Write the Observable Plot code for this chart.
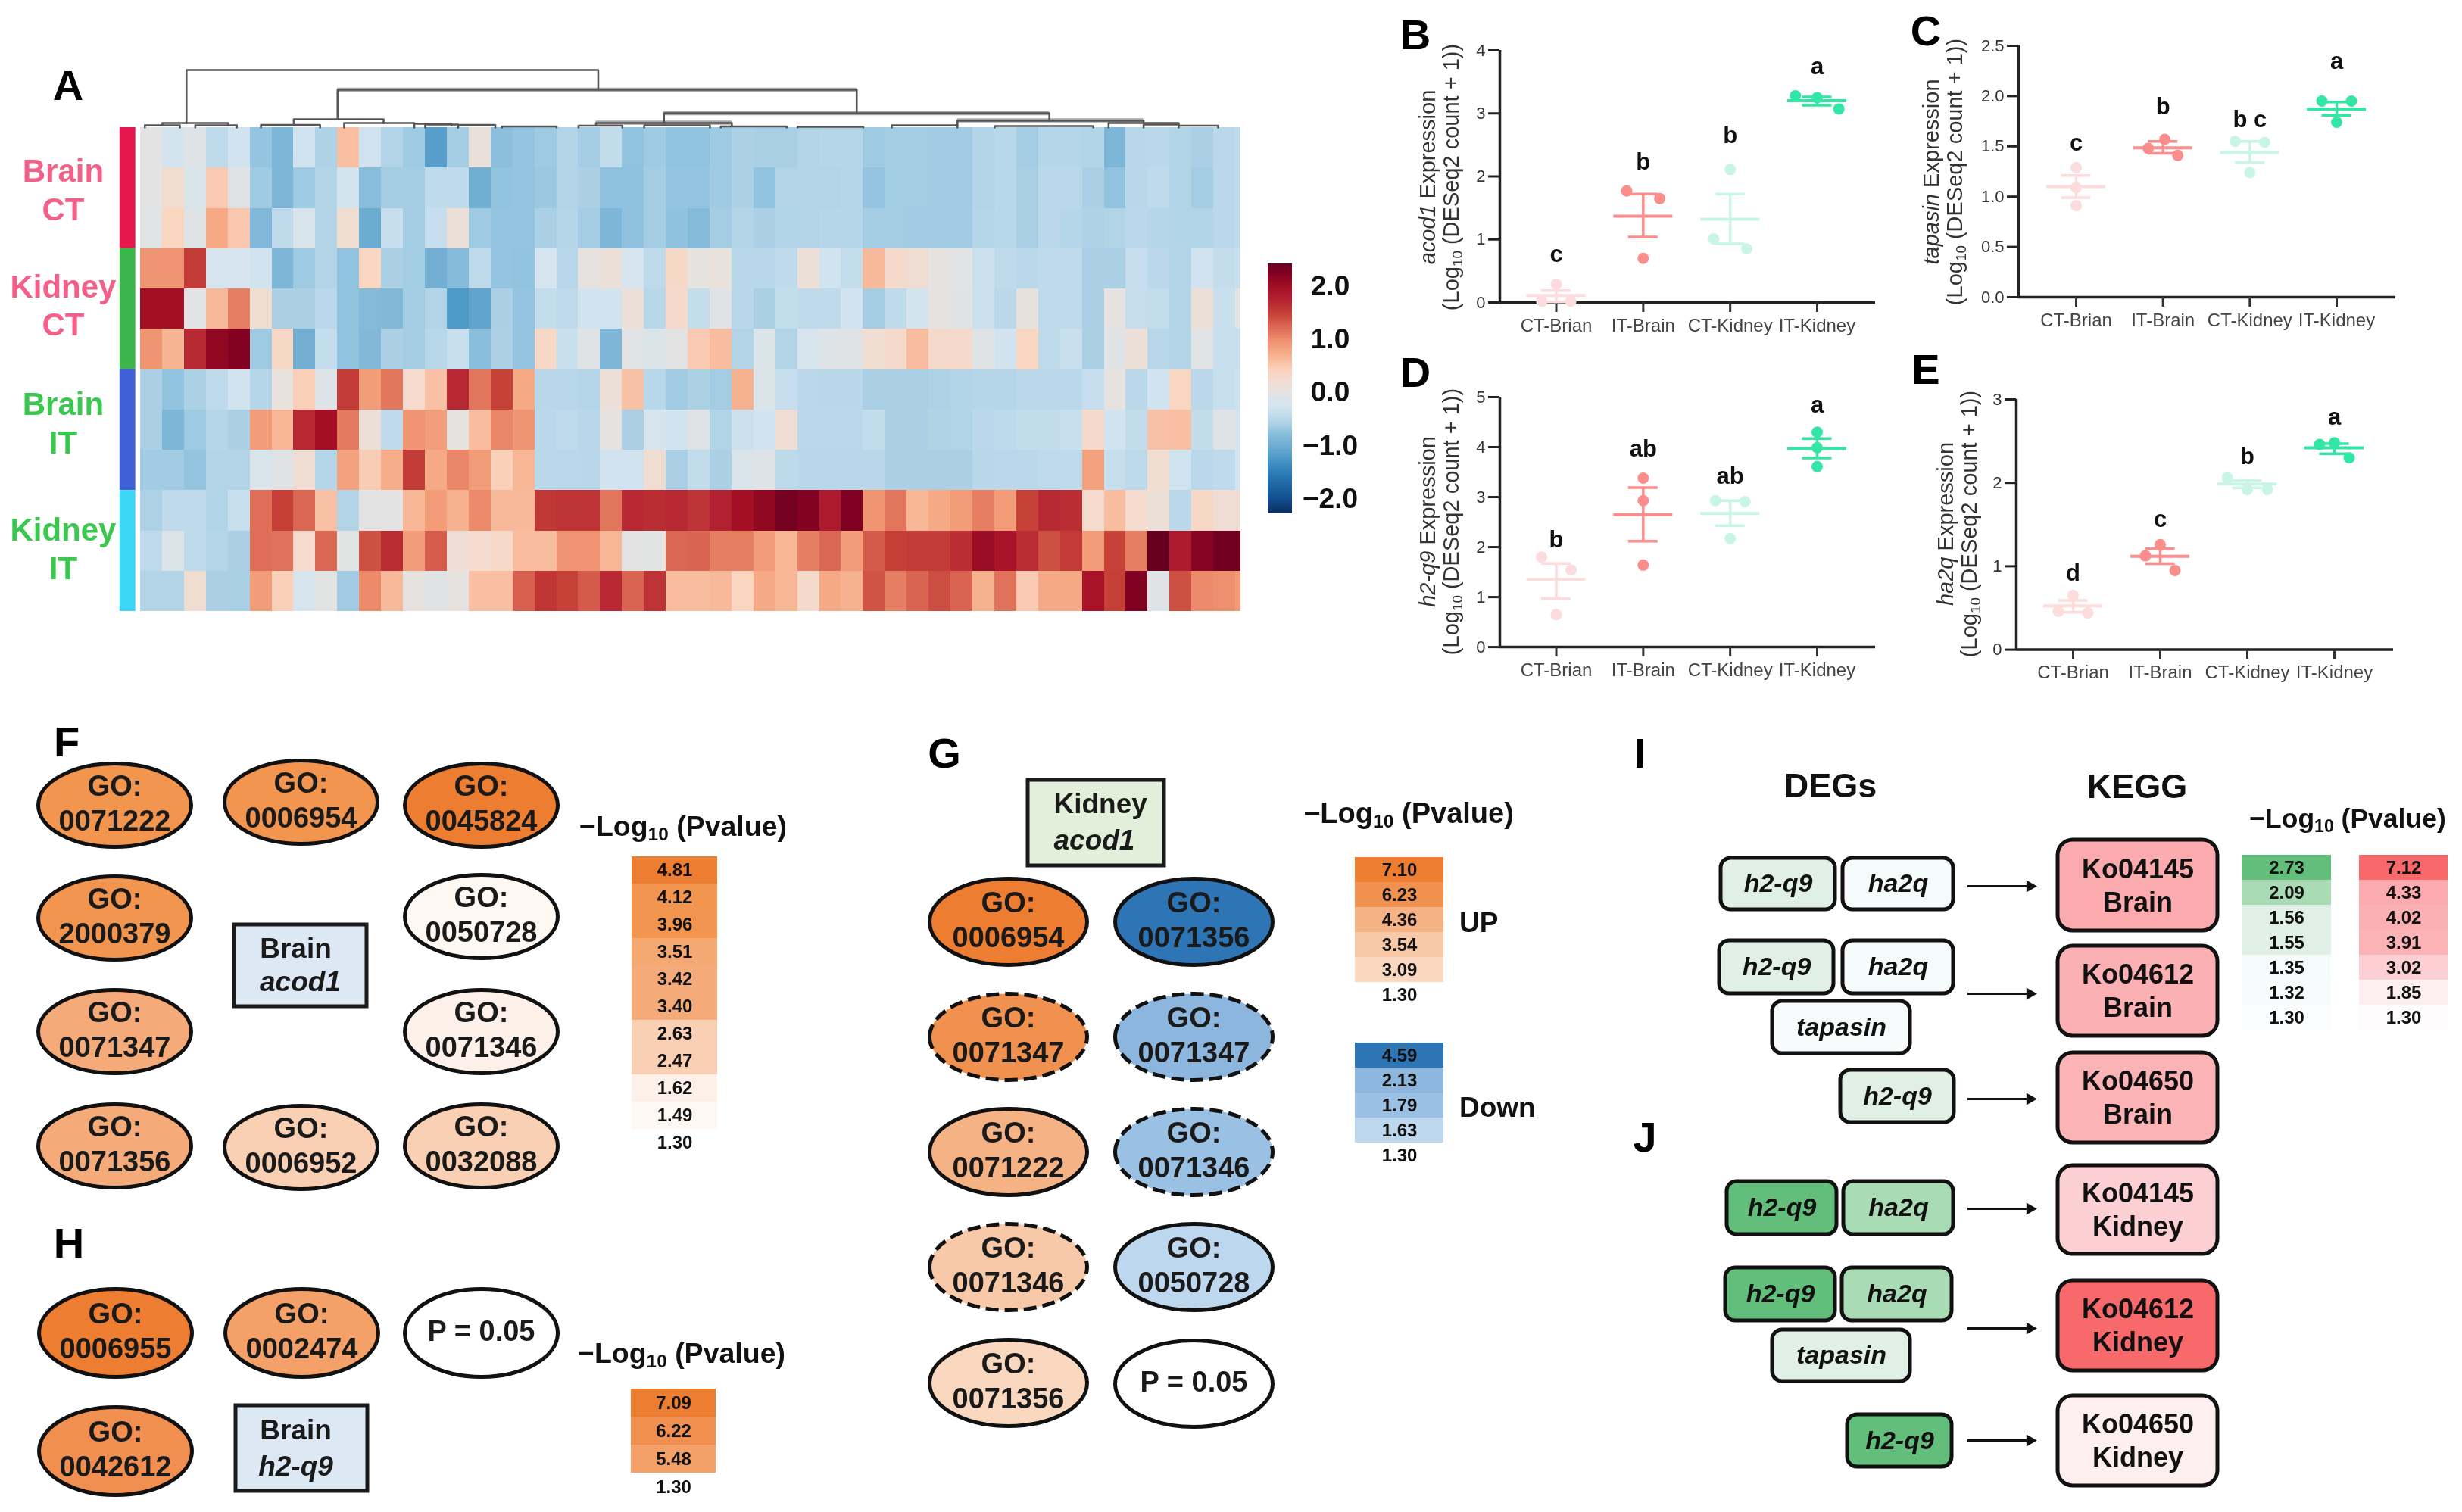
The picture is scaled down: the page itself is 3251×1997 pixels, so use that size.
<!DOCTYPE html>
<html><head><meta charset="utf-8">
<script src="https://cdn.jsdelivr.net/npm/d3@7"></script>
<script src="https://cdn.jsdelivr.net/npm/@observablehq/plot@0.6"></script>
<style>
html,body{margin:0;padding:0;background:#fff}
#fig{position:relative;width:3251px;height:1997px;overflow:hidden;background:#fff;font-family:"Liberation Sans",Arial,sans-serif;color:#111;filter:blur(.7px)}
.t{position:absolute;white-space:nowrap;transform:translate(-50%,-50%)}
.t sub{font-size:.65em;line-height:0;vertical-align:-.28em}
.lab{position:absolute;white-space:nowrap;transform:translate(-50%,-50%) rotate(-90deg);text-align:center;font-size:29px;line-height:31px;color:#333}
.lab sub{font-size:.65em;line-height:0;vertical-align:-.28em}
</style></head><body><div id="fig"></div>
<script>
// ---------- heat map values (12 genes-by-sample rows, 50 columns + cropped last column)
const heatRows=[
[0,-.25,-.05,-.42,-.27,-.7,-.85,-.28,-.55,.6,-.28,-.52,-.65,-1.15,-.62,.1,-.75,-.7,-.65,-.52,-.62,-.4,-.72,-.65,-.72,-.72,-.65,-.57,-.6,-.6,-.52,-.5,-.5,-.65,-.62,-.62,-.63,-.63,-.52,-.48,-.62,-.5,-.5,-.53,-.85,-.48,-.46,-.53,-.58,-.46,-.42],
[0,.25,-.15,.5,-.05,-.65,-.85,-.65,-.52,-.25,-.78,-.62,-.62,-.43,-.43,-.97,-.72,-.7,-.66,-.52,-.58,-.73,-.73,-.62,-.7,-.7,-.65,-.57,-.72,-.52,-.52,-.52,-.5,-.7,-.62,-.62,-.63,-.63,-.52,-.48,-.6,-.46,-.46,-.58,-.72,-.48,-.43,-.53,-.62,-.46,-.42],
[-.03,.4,-.05,.78,.52,-.83,-.42,-.15,-.52,.22,-1,-.37,-.62,-.37,.13,-.65,-.7,-.7,-.58,-.5,-.62,-.85,-.73,-.62,-.73,-.8,-.62,-.52,-.58,-.53,-.52,-.5,-.5,-.62,-.62,-.63,-.63,-.63,-.5,-.48,-.6,-.46,-.5,-.55,-.53,-.46,-.5,-.53,-.53,-.46,-.42],
[.95,.95,1.55,-.22,-.22,-.27,-.85,-.65,-.52,-.72,.4,-.58,-.62,-.95,-.8,-.42,-.7,-.72,-.22,-.48,.05,.15,-.22,-.43,.33,.03,.08,-.48,-.48,-.43,.15,-.27,-.38,.65,.3,.2,.03,-.03,-.32,-.43,-.46,-.43,-.43,-.58,-.58,-.37,-.46,-.52,-.27,-.38,-.35],
[2,2,-.03,.65,1.1,.22,-.58,-.58,-.46,-.72,-.8,-.82,-.62,-.52,-1.2,-1.08,-.58,-.7,-.38,-.43,-.27,-.27,.13,-.48,.3,-.38,-.05,-.48,-.6,-.38,-.43,-.43,-.27,-.62,-.43,-.23,.03,-.07,-.32,-.46,.07,-.43,-.43,-.58,.03,-.37,-.38,-.52,.15,-.35,-.03],
[.95,.7,1.7,2.15,2.25,-.65,.35,-.95,-.38,-.72,-.82,-.58,-.62,-.48,-.35,-.78,-.57,-.7,.35,-.35,-.05,-.85,-.02,-.13,0,.5,.62,-.52,-.13,-.52,-.2,-.08,-.05,.22,.3,.62,.3,.3,-.05,-.27,.38,-.43,-.35,-.58,-.05,.13,-.48,-.52,-.02,-.35,-.35],
[-.58,-.72,-.57,-.43,-.27,-.5,.08,.45,-.08,1.55,.9,1.15,.28,.58,1.72,1.15,1.5,.78,-.48,-.48,-.5,.13,.58,-.48,-.63,-.57,-.62,.72,-.13,-.37,-.46,-.48,-.48,-.58,-.58,-.58,-.56,-.53,-.5,-.5,-.46,-.46,-.46,-.37,.05,-.46,-.27,.38,-.46,-.35,-.3],
[-.58,-.85,-.65,-.5,-.58,.9,.68,1.72,2,1.12,.15,-.42,.95,.88,.03,.62,1.05,.95,-.46,-.42,-.48,.03,-.58,-.2,-.27,-.07,-.53,-.32,-.27,.2,-.46,-.46,-.46,-.4,-.58,-.58,-.54,-.53,-.46,-.44,-.4,-.4,-.35,.3,-.27,-.4,.58,.6,-.4,-.05,-.2],
[-.63,-.63,-.7,-.52,-.52,-.15,-.05,.2,-.5,.85,.48,.75,1.55,.78,1.05,.9,.45,.68,-.46,-.46,-.48,-.27,-.27,.22,-.58,-.4,-.58,-.15,-.08,-.44,-.48,-.48,-.48,-.48,-.58,-.58,-.58,-.58,-.48,-.46,-.46,-.43,-.43,.85,-.37,-.44,.22,-.27,-.46,-.43,-.2],
[-.56,-.42,-.43,-.53,-.35,1.2,1.52,1.25,.58,-.52,0,0,.68,.9,.72,1.03,.65,.65,1.58,1.62,1.62,1.15,1.72,1.67,1.72,1.62,1.78,2,2.15,2.35,2.25,1.85,2.27,.95,1.15,.68,.78,.9,1.1,.9,1.5,1.7,1.67,.28,.62,.28,.15,-.46,.35,.2,.2],
[-.42,-.13,-.42,-.5,-.58,1.2,1.18,.28,1.25,-.01,1.4,1.68,.9,1.32,.18,.28,.32,.62,.62,.95,.95,.68,0,-.01,1.25,1.27,1.1,1.1,.9,.68,1.1,1.25,.9,1.33,1.52,1.55,1.55,1.68,2.08,1.95,1.67,1.4,1.55,.9,1.5,1.1,2.45,1.85,2.22,2.37,2.37],
[-.52,-.52,.22,-.58,-.6,.9,.45,-.2,-.01,-.63,1.03,.65,.03,-.05,.04,.6,.6,1.3,1.6,1.5,1.33,1.72,1.27,1.62,.62,.62,.65,.4,.78,.67,.3,.78,.72,1.37,1.1,1.27,1.42,1.27,.72,1.18,.5,.78,.78,1.95,1.52,2.27,-.07,1.4,1.03,1,.9]
];
const heatScaleTicks=[-2,-1,0,1,2];
const rowGroups=["Brain\nCT","Kidney\nCT","Brain\nIT","Kidney\nIT"];
// dendrogram merges: [left column, right column, merge height, left leg height, right leg height]
const merges=[[2.1,20.9,76,6,50],[9,32.7,50,11,19],[23.9,41.5,19,6,9],[1,4,6,3,3],[.2,1.8,3,0,0],[2.5,4.4,3,0,0],[7,11.1,11,3,6],[5.5,8.2,3.5,0,0],[9.3,12.5,6,0,5],[12.5,14.2,5,0,3],[13,14.5,4,0,0],[14.5,16.2,3.5,0,0],[16.5,19,1.5,0,0],[20.8,27,6,3,2],[20,22,2.5,0,0],[23,26,3,0,0],[26.5,29.5,1.5,0,0],[30,33,1,0,0],[34.3,37.3,3,0,0],[37.3,45.8,9,3,6],[39,43.5,2,0,0],[44.2,47.4,6,0,4],[45.8,47.4,4,0,3],[47.4,49.2,2.5,0,0]];
const paleSpans=[[9,32.7,50],[23.9,41.5,19],[20.8,27,6.5],[37.3,45.8,9.5]];

// ---------- expression panels
const groups=["CT-Brian","IT-Brain","CT-Kidney","IT-Kidney"];
const bY=[[.02,.29,.02],[1.77,1.65,.7],[2.11,1.01,.85],[3.28,3.25,3.07]];
const bErr=[[.11,.01,.19],[1.37,1.04,1.72],[1.32,.93,1.72],[3.2,3.13,3.26]];
const bOff=[[-.167,0,.167],[-.19,.19,0],[0,-.19,.19],[-.25,0,.25]];
const bLetters=[["c",.72],["b",2.19],["b",2.61],["a",3.71]];
const cY=[[1.29,1.09,.91],[1.57,1.48,1.41],[1.55,1.54,1.24],[1.95,1.95,1.74]];
const cErr=[[1.1,.99,1.21],[1.485,1.43,1.55],[1.44,1.34,1.55],[1.87,1.81,1.94]];
const cOff=[[0,0,0],[.02,-.17,.17],[-.17,.17,0],[-.17,.17,0]];
const cLetters=[["c",1.51],["b",1.87],["b c",1.74],["a",2.32]];
const dY=[[1.8,1.54,.65],[3.38,2.93,1.64],[2.93,2.91,2.17],[4.3,3.99,3.61]];
const dErr=[[1.35,.97,1.67],[2.65,2.12,3.19],[2.67,2.43,2.93],[3.97,3.78,4.17]];
const dOff=[[-.17,.17,0],[0,0,0],[-.17,.17,0],[0,0,0]];
const dLetters=[["b",2.1],["ab",3.91],["ab",3.37],["a",4.8]];
const eY=[[.65,.46,.44],[1.26,1.125,.95],[2.06,1.92,1.92],[2.46,2.48,2.3]];
const eErr=[[.525,.45,.59],[1.12,1.03,1.21],[1.985,1.94,2.03],[2.42,2.35,2.47]];
const eOff=[[0,-.17,.17],[0,-.17,.17],[-.23,0,.23],[-.17,0,.17]];
const eLetters=[["d",.89],["c",1.53],["b",2.29],["a",2.76]];

// ---------- GO / KEGG panels: labels and -log10(p) values
const fLegend=["4.81","4.12","3.96","3.51","3.42","3.40","2.63","2.47","1.62","1.49","1.30"];
const fTerms=["0071222","0006954","0045824","2000379","0050728","0071347","0071346","0071356","0006952","0032088"];
const fP=["3.96","4.12","4.81","3.96","1.49","3.42","1.62","3.40","2.63","2.47"];
const hLegend=["7.09","6.22","5.48","1.30"];
const hTerms=["0006955","0002474","0042612"];
const hP=["7.09","5.48","6.22"];
const gUp=["7.10","6.23","4.36","3.54","3.09","1.30"];
const gDown=["4.59","2.13","1.79","1.63","1.30"];
const gTerms=["0006954","0071356","0071347","0071347","0071222","0071346","0071346","0050728","0071356"];
const gP=["7.10","4.59","6.23","2.13","4.36","1.79","3.54","1.63","3.09"];
const gDashed=[false,false,true,true,false,true,true,false,false];
const degLegend=["2.73","2.09","1.56","1.55","1.35","1.32","1.30"];
const keggLegend=["7.12","4.33","4.02","3.91","3.02","1.85","1.30"];
const genes=["h2-q9","ha2q","h2-q9","ha2q","tapasin","h2-q9","h2-q9","ha2q","h2-q9","ha2q","tapasin","h2-q9"];
const genesP=["1.56","1.35","1.55","1.35","1.32","1.55","2.73","2.09","2.73","2.09","1.55","2.73"];
const kegg=["Ko04145\nBrain","Ko04612\nBrain","Ko04650\nBrain","Ko04145\nKidney","Ko04612\nKidney","Ko04650\nKidney"];
const keggP=["4.33","4.02","3.91","3.02","7.12","1.85"];

// ---------- styles and layout (kept apart from the data)
const FONT='"Liberation Sans",Arial,sans-serif';
const heatStops=[-2.25,-2,-1.5,-1.2,-1,-.85,-.7,-.6,-.45,-.25,0,.1,.25,.4,.6,.8,1,1.2,1.5,1.8,2,2.3,2.45];
const heatColors=["#0b2f5f","#114d8e","#2c7db8","#4f9bc7","#6dacd1","#7eb6d8","#94c4df","#a8cfe4","#bcd9ea","#d3e4ef","#e3e3e3","#e9e0da","#f2dcd0","#fad5c0","#f8bfa2","#f5a882","#ee8f6d","#de6e58","#c64138","#b11f30","#a50f26","#7c0020","#67001f"];
const sideColors=["#e5174c","#3cb54a","#4060d8","#3ed6f8"];
const rowLabelColors=["#f2608a","#f2608a","#3cc850","#3cc850"];
const rowLabelY=[1.52,4.38,7.3,10.42];
const groupColors=["#fcdcdc","#fb8d8d","#c9f5e5","#32e6a6"];
const fColors=["#ed7d31","#f1954f","#f1954f","#f4a872","#f4ab79","#f4ab79","#f9d0b4","#f9d0b4","#fdf0e8","#fef7f2","#ffffff"];
const hColors=["#ed7d31","#f08f4f","#f3a069","#ffffff"];
const gUpColors=["#ed7d31","#f1914f","#f5b385","#f8c9a8","#fad7bf","#ffffff"];
const gDownColors=["#2e75b6","#8db6de","#9ac0e3","#bdd7ee","#ffffff"];
const degColors=["#63be7b","#a9dcb5","#e0f0e6","#e0f0e6","#f5fafb","#f7fbfc","#fafcfd"];
const keggColors=["#f8696b","#fbaaae","#fbb0b3","#fbb3b6","#fcd0d3","#fdeeef","#fdfbfc"];
const fSlots=[[151,1063],[397,1059],[635,1063],[151,1212],[635,1210],[151,1362],[635,1362],[151,1513],[397,1515],[635,1513]];
const hSlots=[[152,1760],[398,1760],[152,1916]];
const gSlots=[[1331,1217],[1576,1217],[1331,1369],[1576,1369],[1331,1521],[1576,1521],[1331,1673],[1576,1673],[1331,1826]];
const geneBoxes=[[2272,2423,1133,1201],[2433,2579,1133,1201],[2270,2421,1242,1312],[2433,2579,1242,1312],[2340,2522,1322,1391],[2430,2580,1413,1482],[2280,2425,1560,1630],[2434,2579,1560,1630],[2278,2423,1674,1744],[2432,2577,1674,1744],[2340,2522,1756,1824],[2439,2577,1868,1937]];
const keggBoxes=[[2717,2928,1109,1229],[2717,2928,1249,1368],[2717,2928,1390,1509],[2717,2928,1539,1656],[2717,2928,1691,1810],[2717,2928,1843,1962]];
const arrowY=[1170,1312,1451,1596,1754,1902];

const fig=document.getElementById("fig");
function place(el,left,top){el.style.position="absolute";el.style.left=left+"px";el.style.top=top+"px";el.style.overflow="visible";el.style.maxWidth="none";fig.appendChild(el);return el;}
function html(cls,content,x,y,style){const d=document.createElement("div");d.className=cls;d.innerHTML=content;d.style.left=x+"px";d.style.top=y+"px";Object.assign(d.style,style||{});fig.appendChild(d);return d;}
const baseStyle={fontFamily:FONT,background:"transparent",overflow:"visible"};

// ---------- A: heat map
const cells=heatRows.flatMap((r,row)=>r.map((v,col)=>({row,col,v})));
const sideRows=rowGroups.map((label,i)=>({label,i,color:sideColors[i],textColor:rowLabelColors[i],ty:rowLabelY[i]}));
const colDomain=[0,50.24];
place(Plot.plot({width:1638,height:639,marginLeft:185,marginRight:0,marginTop:0,marginBottom:0,style:baseStyle,
 x:{domain:colDomain,axis:null},y:{domain:[0,12],reverse:true,axis:null},
 color:{type:"linear",domain:heatStops,range:heatColors},
 marks:[
  Plot.rect(cells,{x1:"col",x2:d=>Math.min(d.col+1,colDomain[1]),y1:"row",y2:d=>d.row+1,fill:"v",shapeRendering:"crispEdges"}),
  Plot.rect(sideRows,{x1:-.94,x2:-.22,y1:d=>d.i*3,y2:d=>d.i*3+3,fill:{value:"color",scale:null}}),
  Plot.text(sideRows,{x:-3.53,y:"ty",text:"label",fill:{value:"textColor",scale:null},fontSize:42,fontWeight:"bold",lineHeight:1.21})
 ]}),0,168);
const dendro=merges.flatMap((m,id)=>[{id,c:m[0],h:m[3]},{id,c:m[0],h:m[2]},{id,c:m[1],h:m[2]},{id,c:m[1],h:m[4]}]);
place(Plot.plot({width:1638,height:80,marginLeft:185,marginRight:0,marginTop:0,marginBottom:0,style:baseStyle,
 x:{domain:colDomain,axis:null},y:{domain:[0,80],axis:null},
 marks:[
  Plot.ruleY(paleSpans,{y:d=>d[2],x1:d=>d[0],x2:d=>d[1],stroke:"#a8a8a8",strokeWidth:5.5}),
  Plot.line(dendro,{x:"c",y:"h",z:"id",stroke:"#555",strokeWidth:2.6})
 ]}),0,88);
// colour bar
const barSteps=d3.range(-2.25,2.45,.02);
place(Plot.plot({width:32,height:330,margin:0,style:baseStyle,
 x:{axis:null,domain:[0,1]},y:{domain:[-2.25,2.45],axis:null},
 color:{type:"linear",domain:heatStops,range:heatColors},
 marks:[
  Plot.rect(barSteps,{x1:0,x2:1,y1:d=>d,y2:d=>d+.022,fill:d=>d,shapeRendering:"crispEdges"}),
  Plot.text(heatScaleTicks,{y:d=>d,text:d3.format(".1f"),frameAnchor:"right",dx:50,dy:-2,textAnchor:"middle",fontSize:37,fontWeight:"bold",fill:"#111"})
 ]}),1674,348);

// ---------- B-E: scatter panels
function scatter(cfg){
 const mL=90,mT=25,mB=60,mR=10;
 const w=cfg.right-cfg.axisX, h=cfg.y0-cfg.yTop;
 const step=(cfg.cats[3]-cfg.cats[0])/3;
 const dom=[-(cfg.cats[0]-cfg.axisX)/step,(cfg.right-cfg.cats[0])/step];
 const pts=cfg.vals.flatMap((vs,g)=>vs.map((v,k)=>({g,v,pos:g+cfg.off[g][k]})));
 const errs=cfg.err.map((e,g)=>({g,mean:e[0],lo:e[1],hi:e[2]}));
 const letters=cfg.letters.map((l,g)=>({g,t:l[0],v:l[1]}));
 const col={value:d=>groupColors[d.g],scale:null};
 place(Plot.plot({width:w+mL+mR,height:h+mT+mB,marginLeft:mL,marginRight:mR,marginTop:mT,marginBottom:mB,style:baseStyle,
  x:{domain:dom,axis:null},y:{domain:[0,cfg.max],axis:null},
  marks:[
   Plot.ruleY([0],{stroke:"#222",strokeWidth:3.5}),
   Plot.ruleX([dom[0]],{stroke:"#222",strokeWidth:3.5}),
   Plot.axisY(cfg.ticks,{tickSize:15,tickPadding:4,fontSize:22,stroke:"#222",strokeWidth:3,fill:"#333",tickFormat:cfg.fmt||String,label:null}),
   Plot.axisX([0,1,2,3],{tickSize:13,tickPadding:8,fontSize:24,stroke:"#333",strokeWidth:3,fill:"#444",tickFormat:i=>groups[i],label:null}),
   Plot.dot(pts,{x:"pos",y:"v",r:7.5,fill:col}),
   Plot.ruleX(errs,{x:"g",y1:"lo",y2:"hi",stroke:col,strokeWidth:3.5}),
   Plot.ruleY(errs,{y:"mean",x1:d=>d.g-.34,x2:d=>d.g+.34,stroke:col,strokeWidth:4}),
   Plot.ruleY(errs,{y:"lo",x1:d=>d.g-.17,x2:d=>d.g+.17,stroke:col,strokeWidth:3.5}),
   Plot.ruleY(errs,{y:"hi",x1:d=>d.g-.17,x2:d=>d.g+.17,stroke:col,strokeWidth:3.5}),
   Plot.text(letters,{x:"g",y:"v",dy:-3,text:"t",fontSize:31,fontWeight:"bold",fill:"#111"})
  ]}),cfg.axisX-mL,cfg.yTop-mT);
 html("lab",`<i>${cfg.gene}</i> Expression<br>(Log<sub>10</sub> (DESeq2 count + 1))`,cfg.labX,cfg.labY);
}
scatter({axisX:1980,right:2476,yTop:66,y0:399,cats:[2054.5,2169,2284,2399],max:4,ticks:[0,1,2,3,4],vals:bY,err:bErr,off:bOff,letters:bLetters,gene:"acod1",labX:1901,labY:234});
scatter({axisX:2665,right:3163,yTop:60,y0:392,cats:[2741,2855,2971,3085],max:2.5,ticks:[0,.5,1,1.5,2,2.5],fmt:d3.format(".1f"),vals:cY,err:cErr,off:cOff,letters:cLetters,gene:"tapasin",labX:2566,labY:227});
scatter({axisX:1980,right:2476,yTop:523.5,y0:853.6,cats:[2054.5,2169,2284,2399],max:5,ticks:[0,1,2,3,4,5],vals:dY,err:dErr,off:dOff,letters:dLetters,gene:"h2-q9",labX:1901,labY:689});
scatter({axisX:2662,right:3160,yTop:527,y0:857.6,cats:[2737,2852,2968,3082],max:3,ticks:[0,1,2,3],vals:eY,err:eErr,off:eOff,letters:eLetters,gene:"ha2q",labX:2585,labY:692});

// ---------- helpers for the node diagrams
function ellipse(rx,ry){const k=.5523;return {draw(c){c.moveTo(-rx,0);c.bezierCurveTo(-rx,-k*ry,-k*rx,-ry,0,-ry);c.bezierCurveTo(k*rx,-ry,rx,-k*ry,rx,0);c.bezierCurveTo(rx,k*ry,k*rx,ry,0,ry);c.bezierCurveTo(-k*rx,ry,-rx,k*ry,-rx,0);c.closePath();}};}
function canvas(l,t,w,h,domain,range,marks){
 place(Plot.plot({width:w,height:h,margin:0,style:baseStyle,
  x:{domain:[l,l+w],range:[0,w],axis:null},y:{domain:[t,t+h],range:[0,h],axis:null},
  color:{type:"ordinal",domain,range},marks}),l,t);
}
function strip(values,colors,l,t,w,rowH,fs){
 const rows=values.map((v,i)=>({v,i}));
 place(Plot.plot({width:w,height:rowH*values.length,margin:0,style:baseStyle,
  x:{axis:null},y:{type:"band",domain:d3.range(values.length),padding:0,axis:null},
  color:{type:"ordinal",domain:d3.range(values.length),range:colors},
  marks:[Plot.cell(rows,{y:"i",fill:"i"}),
   Plot.text(rows,{y:"i",text:"v",fontSize:fs,fontWeight:"bold",fill:"#111"})]}),l,t);
}
function goNodes(rows,rx,ry){
 const sym=ellipse(rx,ry);
 const solid=rows.filter(d=>!d.dashed),dash=rows.filter(d=>d.dashed);
 return [
  Plot.dot(solid,{x:"x",y:"y",r:10,symbol:sym,fill:"p",stroke:"#111",strokeWidth:5}),
  Plot.dot(dash,{x:"x",y:"y",r:10,symbol:sym,fill:"p",stroke:"#111",strokeWidth:5,strokeDasharray:"17,8"}),
  Plot.text(rows,{x:"x",y:"y",dy:-4,text:"t",fontSize:38,fontWeight:"bold",lineHeight:1.2,fill:"#1a1a1a"})
 ];
}
const pTitle=(x,y,fs)=>html("t","−Log<sub>10</sub> (Pvalue)",x,y,{fontSize:fs+"px",fontWeight:"bold"});

// ---------- F
const fRows=fTerms.map((t,i)=>({t:"GO:\n"+t,p:fP[i],x:fSlots[i][0],y:fSlots[i][1]}));
canvas(30,990,740,560,fLegend,fColors,[
 ...goNodes(fRows,101,55),
 Plot.rect([{}],{x1:309,x2:484,y1:1221,y2:1329,fill:"#dce9f5",stroke:"#1a1a1a",strokeWidth:5}),
 Plot.text(["Brain"],{x:390,y:1253,fontSize:37,fontWeight:"bold",fill:"#1a1a1a"}),
 Plot.text(["acod1"],{x:396,y:1297,fontSize:37,fontWeight:"bold",fontStyle:"italic",fill:"#1a1a1a"})
]);
pTitle(902,1091,37.5);
strip(fLegend,fColors,834,1131,113,36,24);

// ---------- H
const hRows=hTerms.map((t,i)=>({t:"GO:\n"+t,p:hP[i],x:hSlots[i][0],y:hSlots[i][1]}));
canvas(30,1685,740,300,hLegend,hColors,[
 ...goNodes(hRows,101,58),
 ...goNodes([{t:"P = 0.05",p:"1.30",x:635,y:1760}],101,58),
 Plot.rect([{}],{x1:311,x2:485,y1:1856,y2:1969,fill:"#dce9f5",stroke:"#1a1a1a",strokeWidth:5}),
 Plot.text(["Brain"],{x:390,y:1889,fontSize:37,fontWeight:"bold",fill:"#1a1a1a"}),
 Plot.text(["h2-q9"],{x:390,y:1937,fontSize:37,fontWeight:"bold",fontStyle:"italic",fill:"#1a1a1a"})
]);
pTitle(900,1787,37.5);
strip(hLegend,hColors,833,1833,112,37.4,24);

// ---------- G
const gRows=gTerms.map((t,i)=>({t:"GO:\n"+t,p:gP[i],x:gSlots[i][0],y:gSlots[i][1],dashed:gDashed[i]}));
canvas(1200,1010,520,900,[...gUp,...gDown.slice(0,4)],[...gUpColors,...gDownColors.slice(0,4)],[
 ...goNodes(gRows,104,57),
 ...goNodes([{t:"P = 0.05",p:"1.30",x:1576,y:1827}],104,57),
 Plot.rect([{}],{x1:1357,x2:1537,y1:1030,y2:1143,fill:"#e2efda",stroke:"#1a1a1a",strokeWidth:5}),
 Plot.text(["Kidney"],{x:1391,y:1062,textAnchor:"start",fontSize:37,fontWeight:"bold",fill:"#1a1a1a"}),
 Plot.text(["acod1"],{x:1391,y:1110,textAnchor:"start",fontSize:37,fontWeight:"bold",fontStyle:"italic",fill:"#1a1a1a"})
]);
pTitle(1860,1074,38);
strip(gUp,gUpColors,1789,1131,117,33.3,24);
strip(gDown,gDownColors,1789,1377,117,33,24);
html("t","UP",1927,1219,{fontSize:"37px",fontWeight:"bold",transform:"translate(0,-50%)"});
html("t","Down",1927,1463,{fontSize:"37px",fontWeight:"bold",transform:"translate(0,-50%)"});

// ---------- I / J
const geneRows=genes.map((t,i)=>({t,p:genesP[i],x1:geneBoxes[i][0],x2:geneBoxes[i][1],y1:geneBoxes[i][2],y2:geneBoxes[i][3]}));
const keggRows=kegg.map((t,i)=>({t,p:keggP[i],x1:keggBoxes[i][0],x2:keggBoxes[i][1],y1:keggBoxes[i][2],y2:keggBoxes[i][3]}));
const boxOpts={x1:"x1",x2:"x2",y1:"y1",y2:"y2",fill:"p",stroke:"#111",strokeWidth:5,rx:13};
canvas(2250,1090,700,890,[...degLegend,...keggLegend.slice(0,6)],[...degColors,...keggColors.slice(0,6)],[
 Plot.rect(geneRows,boxOpts),
 Plot.rect(keggRows,{...boxOpts,rx:20}),
 Plot.text(geneRows,{x:d=>(d.x1+d.x2)/2,y:d=>(d.y1+d.y2)/2,text:"t",fontSize:34,fontWeight:"bold",fontStyle:"italic",fill:"#111"}),
 Plot.text(keggRows,{x:d=>(d.x1+d.x2)/2,y:d=>(d.y1+d.y2)/2,dy:-2,text:"t",fontSize:36,fontWeight:"bold",lineHeight:1.22,fill:"#111"}),
 Plot.ruleY(arrowY,{x1:2598,x2:2678,stroke:"#111",strokeWidth:3.2}),
 Plot.dot(arrowY,{x:2680,y:d=>d,symbol:"triangle",rotate:90,r:6,fill:"#111"})
]);
html("t","DEGs",2417,1038,{fontSize:"45px",fontWeight:"bold"});
html("t","KEGG",2822,1039,{fontSize:"45px",fontWeight:"bold"});
pTitle(3100,1081,35.5);
strip(degLegend,degColors,2960,1129,118,33,24);
strip(keggLegend,keggColors,3115,1129,117,33,24);

// ---------- panel letters
[["A",90,112],["B",1869,45],["C",2543,40],["D",1869,491],["E",2543,487],["F",88,979],["G",1247,994],["H",91,1641],["I",2165,994],["J",2172,1501]]
 .forEach(([t,x,y])=>html("t",t,x,y,{fontSize:"56px",fontWeight:"bold",color:"#000"}));
</script></body></html>
